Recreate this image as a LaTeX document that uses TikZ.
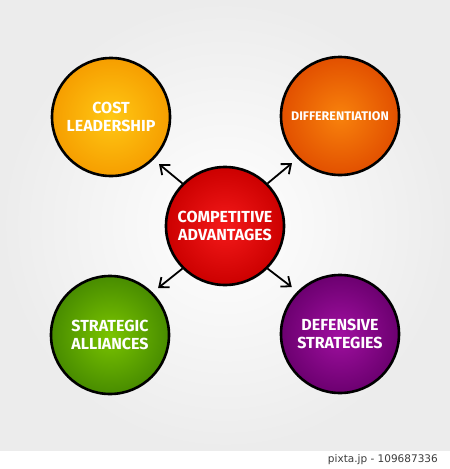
\documentclass[tikz,border=0pt]{standalone}
\usepackage{fontspec}
\newfontfamily\lblfont{Fira Sans}
\newfontfamily\credfont{DejaVu Sans}
\usetikzlibrary{arrows.meta}
\definecolor{bgout}{HTML}{ECECEC}
\tikzset{
  bubble/.style={circle, draw=black, line width=2.6pt, minimum size=118pt, inner sep=0pt,
    shading=radial, text=white, align=center, font=\lblfont\bfseries\fontsize{16}{18}\selectfont},
  outarrow/.style={line width=1.8pt, -{Straight Barb[length=8pt,width=13pt,line width=1.8pt]}, shorten >=7pt}
}
\begin{document}
\begin{tikzpicture}[x=1pt,y=-1pt]
\useasboundingbox (0,0) rectangle (450,469);
\fill[white] (0,0) rectangle (450,469);
\shade[inner color=white, outer color=bgout] (0,0) rectangle (450,450);
\node[bubble, inner color={rgb,255:red,255;green,200;blue,20}, outer color={rgb,255:red,246;green,158;blue,0}] (cl) at (111,117) {COST\\LEADERSHIP};
\node[bubble, inner color={rgb,255:red,248;green,130;blue,12}, outer color={rgb,255:red,226;green,80;blue,0}, font=\lblfont\bfseries\fontsize{12.5}{14}\selectfont] (dif) at (340,116) {DIFFERENTIATION};
\node[bubble, inner color={rgb,255:red,244;green,26;blue,26}, outer color={rgb,255:red,204;green,0;blue,0}] (cen) at (225,226) {COMPETITIVE\\ADVANTAGES};
\node[bubble, inner color={rgb,255:red,122;green,196;blue,0}, outer color={rgb,255:red,72;green,140;blue,0}] (sa) at (110,335) {STRATEGIC\\ALLIANCES};
\node[bubble, inner color={rgb,255:red,160;green,16;blue,160}, outer color={rgb,255:red,108;green,0;blue,112}] (def) at (340,334) {DEFENSIVE\\STRATEGIES};
\draw[outarrow] (cen.135) -- (cl.-45);
\draw[outarrow] (cen.45) -- (dif.-135);
\draw[outarrow] (cen.-135) -- (sa.45);
\draw[outarrow] (cen.-45) -- (def.135);
\node[anchor=base east, text={rgb,255:red,60;green,60;blue,60}, font=\credfont\fontsize{10.5}{10.5}\selectfont, inner sep=0pt] (cred) at (438,462) {pixta.jp - 109687336};
\end{tikzpicture}
\end{document}
